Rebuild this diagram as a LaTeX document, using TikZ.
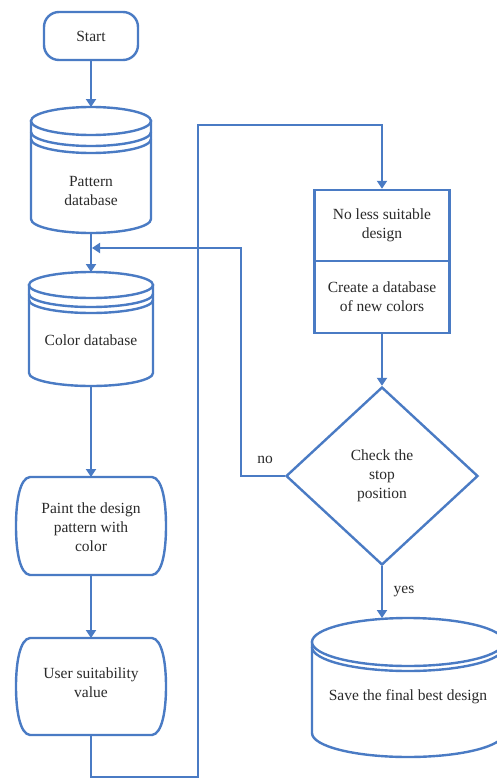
\documentclass[tikz,border=0pt]{standalone}
\usepackage{fontspec}
\setmainfont{Liberation Serif}
\newfontfamily\lblfont{Liberation Serif}
\usetikzlibrary{arrows.meta,shapes.geometric}
\definecolor{lineblue}{HTML}{4A7BC4}
\definecolor{txt}{HTML}{2A2A2A}
\tikzset{
  ln/.style={draw=lineblue,line width=2.4pt},
  arr/.style={ln,-{Triangle[width=10pt,length=8pt]}},
  lbl/.style={text=txt,font=\lblfont\fontsize{15.5}{19}\selectfont,align=center,inner sep=0pt},
  startbox/.style={ln,rounded corners=15pt,minimum width=94pt,minimum height=48pt,fill=white},
  procbox/.style={ln,minimum width=135pt,fill=white},
  decide/.style={ln,diamond,minimum width=192pt,minimum height=178pt,inner sep=0pt,fill=white},
}
\begin{document}
\begin{tikzpicture}[x=1pt,y=-1pt]
\useasboundingbox (0,0) rectangle (497,779);
\fill[white] (0,0) rectangle (497,779);

% ---- connector end points ----
\coordinate (patN) at (91,107);
\coordinate (patS) at (91,233);
\coordinate (colN) at (91,272);
\coordinate (colS) at (91,386);
\coordinate (pntN) at (91,477);
\coordinate (pntS) at (91,575);
\coordinate (usrN) at (91,638);
\coordinate (usrS) at (91,735);
\coordinate (savN) at (382,618);
\coordinate (la) at (91,777);
\coordinate (lb) at (198,125);
\coordinate (noturn) at (241,248);
\coordinate (fbin) at (92,248);

% Start
\node[startbox,lbl,ln] (start) at (91,36) {Start};

% right box
\node[procbox,minimum height=71pt] (box1) at (382,225.5) {};
\node[lbl] (t1) at (box1) {No less suitable\\design};
\node[procbox,minimum height=72pt] (box2) at (382,297) {};
\node[lbl] (t2) at (box2) {Create a database\\of new colors};

% decision
\node[decide] (chk) at (382,476) {};
\node[lbl] (t3) at (chk) {Check the\\stop\\position};

% arrows
\draw[arr] (start.south) -- (patN);
\draw[arr] (patS) -- (colN);
\draw[arr] (colS) -- (pntN);
\draw[arr] (pntS) -- (usrN);
\draw[arr] (usrS) -- (la) -| (lb) -| (box1.north);
\draw[arr] (box2.south) -- (chk.north);
\draw[arr] (chk.west) -| (noturn) -- (fbin);
\draw[arr] (chk.south) -- (savN);
\node[lbl] (no) at (265,460) {no};
\node[lbl] (yes) at (404,592) {yes};

% ---- Pattern database cylinder ----
\draw[ln,fill=white] (31,121) -- (31,219) arc[start angle=180,end angle=360,x radius=60pt,y radius=14pt] -- (151,121) -- cycle;
\draw[ln,fill=white] (91,121) ellipse [x radius=60pt,y radius=14pt];
\draw[ln] (31,132) arc[start angle=180,end angle=360,x radius=60pt,y radius=14pt];
\draw[ln] (31,139) arc[start angle=180,end angle=360,x radius=60pt,y radius=14pt];
\node[lbl] (pat) at (91,191) {Pattern\\database};

% ---- Color database cylinder ----
\draw[ln,fill=white] (29,285) -- (29,373) arc[start angle=180,end angle=360,x radius=62pt,y radius=13pt] -- (153,285) -- cycle;
\draw[ln,fill=white] (91,285) ellipse [x radius=62pt,y radius=13pt];
\draw[ln] (29,294) arc[start angle=180,end angle=360,x radius=62pt,y radius=13pt];
\draw[ln] (29,300) arc[start angle=180,end angle=360,x radius=62pt,y radius=13pt];
\node[lbl] (col) at (91,340) {Color database};

% ---- Paint box ----
\draw[ln,fill=white] (30,477) -- (152,477)
  .. controls (162,478) and (166,500) .. (166,526)
  .. controls (166,552) and (162,574) .. (152,575)
  -- (30,575)
  .. controls (20,574) and (16,552) .. (16,526)
  .. controls (16,500) and (20,478) .. (30,477) -- cycle;
\node[lbl] (pnt) at (91,527) {Paint the design\\pattern with\\color};

% ---- User box ----
\draw[ln,fill=white] (30,638) -- (152,638)
  .. controls (162,639) and (166,662) .. (166,686.5)
  .. controls (166,711) and (162,734) .. (152,735)
  -- (30,735)
  .. controls (20,734) and (16,711) .. (16,686.5)
  .. controls (16,662) and (20,639) .. (30,638) -- cycle;
\node[lbl] (usr) at (91,683) {User suitability\\value};

% ---- Save cylinder ----
\draw[ln,fill=white] (312,642) -- (312,733) arc[start angle=180,end angle=360,x radius=96pt,y radius=24pt] -- (504,642) -- cycle;
\draw[ln,fill=white] (408,642) ellipse [x radius=96pt,y radius=24pt];
\draw[ln] (312,647) arc[start angle=180,end angle=360,x radius=96pt,y radius=24pt];
\node[lbl] (sav) at (408,697) {Save the final best design};
\end{tikzpicture}
\end{document}
